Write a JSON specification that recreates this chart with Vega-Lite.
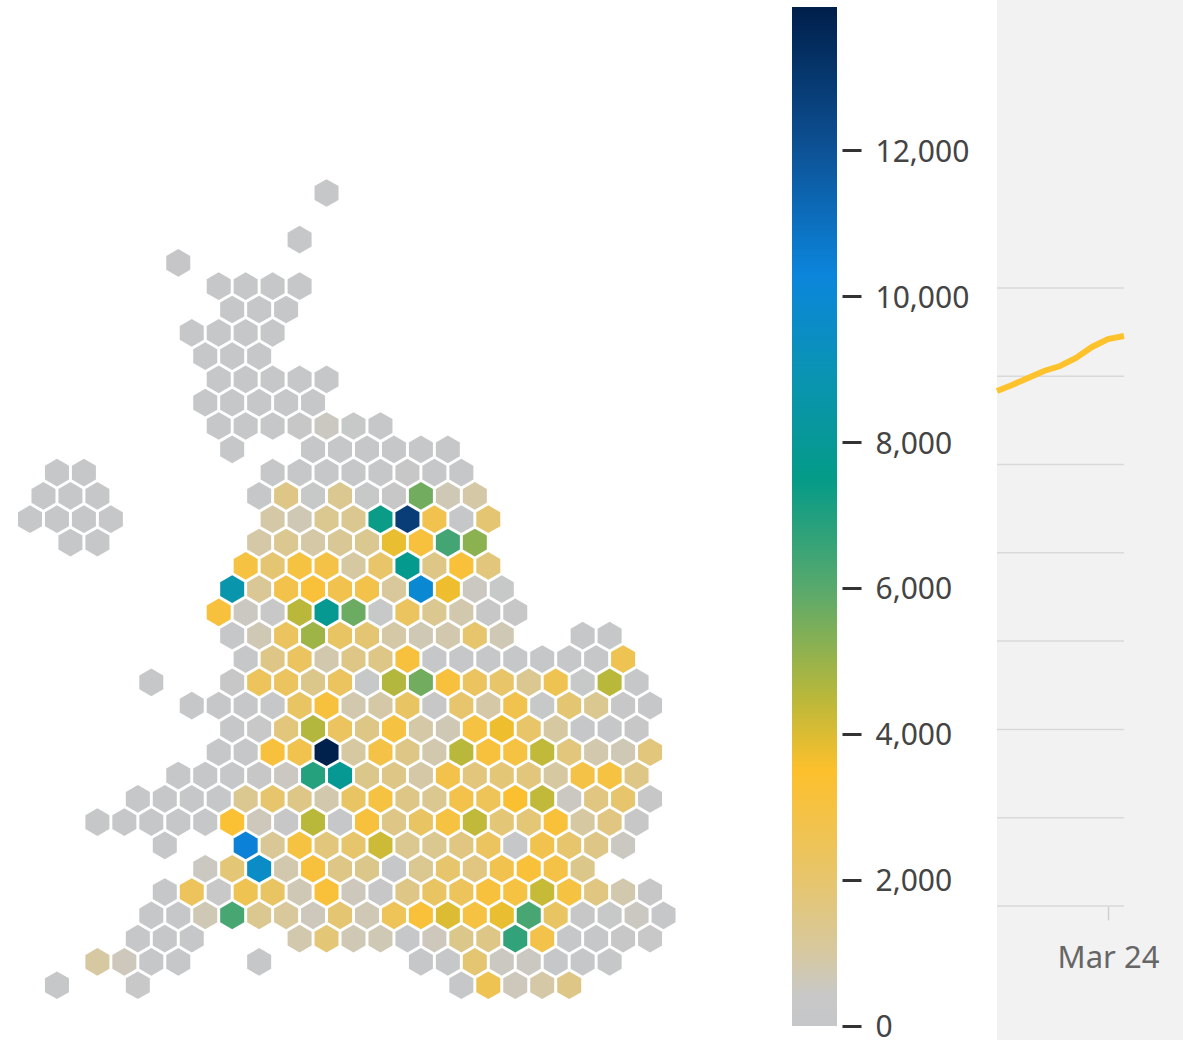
{"$schema":"https://vega.github.io/schema/vega-lite/v6.json","padding":0,"background":"white","bounds":"flush","spacing":997,"config":{"view":{"stroke":null},"font":"Noto Sans"},"hconcat":[{"bounds":"flush","spacing":0,"hconcat":[{"width":792,"height":1040,"data":{"values":[
{"c":22,"r":0,"v":100},{"c":20,"r":2,"v":120},{"c":11,"r":3,"v":90},
{"c":14,"r":4,"v":110},{"c":16,"r":4,"v":100},{"c":18,"r":4,"v":120},{"c":20,"r":4,"v":100},
{"c":15,"r":5,"v":100},{"c":17,"r":5,"v":110},{"c":19,"r":5,"v":100},
{"c":12,"r":6,"v":100},{"c":14,"r":6,"v":120},{"c":16,"r":6,"v":100},{"c":18,"r":6,"v":110},
{"c":13,"r":7,"v":100},{"c":15,"r":7,"v":100},{"c":17,"r":7,"v":120},
{"c":14,"r":8,"v":100},{"c":16,"r":8,"v":110},{"c":18,"r":8,"v":100},{"c":20,"r":8,"v":120},{"c":22,"r":8,"v":100},
{"c":13,"r":9,"v":110},{"c":15,"r":9,"v":100},{"c":17,"r":9,"v":130},{"c":19,"r":9,"v":150},{"c":21,"r":9,"v":120},
{"c":14,"r":10,"v":100},{"c":16,"r":10,"v":110},{"c":18,"r":10,"v":120},{"c":20,"r":10,"v":200},{"c":22,"r":10,"v":500},{"c":24,"r":10,"v":300},{"c":26,"r":10,"v":150},
{"c":15,"r":11,"v":100},{"c":21,"r":11,"v":120},{"c":23,"r":11,"v":150},{"c":25,"r":11,"v":130},{"c":27,"r":11,"v":120},{"c":29,"r":11,"v":110},{"c":31,"r":11,"v":140},
{"c":2,"r":12,"v":100},{"c":4,"r":12,"v":100},{"c":18,"r":12,"v":110},{"c":20,"r":12,"v":130},{"c":22,"r":12,"v":120},{"c":24,"r":12,"v":140},{"c":26,"r":12,"v":130},{"c":28,"r":12,"v":200},{"c":30,"r":12,"v":180},{"c":32,"r":12,"v":160},
{"c":1,"r":13,"v":100},{"c":3,"r":13,"v":100},{"c":5,"r":13,"v":100},{"c":17,"r":13,"v":150},{"c":19,"r":13,"v":1500},{"c":21,"r":13,"v":300},{"c":23,"r":13,"v":1300},{"c":25,"r":13,"v":300},{"c":27,"r":13,"v":200},{"c":29,"r":13,"v":5600},{"c":31,"r":13,"v":700},{"c":33,"r":13,"v":900},
{"c":0,"r":14,"v":100},{"c":2,"r":14,"v":100},{"c":4,"r":14,"v":100},{"c":6,"r":14,"v":100},{"c":18,"r":14,"v":900},{"c":20,"r":14,"v":700},{"c":22,"r":14,"v":1300},{"c":24,"r":14,"v":1300},{"c":26,"r":14,"v":7400},{"c":28,"r":14,"v":12800},{"c":30,"r":14,"v":2700},{"c":32,"r":14,"v":150},{"c":34,"r":14,"v":1900},
{"c":3,"r":15,"v":100},{"c":5,"r":15,"v":100},{"c":17,"r":15,"v":900},{"c":19,"r":15,"v":1300},{"c":21,"r":15,"v":900},{"c":23,"r":15,"v":1200},{"c":25,"r":15,"v":1300},{"c":27,"r":15,"v":3800},{"c":29,"r":15,"v":3100},{"c":31,"r":15,"v":6400},{"c":33,"r":15,"v":5200},
{"c":16,"r":16,"v":3000},{"c":18,"r":16,"v":1900},{"c":20,"r":16,"v":3000},{"c":22,"r":16,"v":2900},{"c":24,"r":16,"v":1000},{"c":26,"r":16,"v":2100},{"c":28,"r":16,"v":7700},{"c":30,"r":16,"v":1500},{"c":32,"r":16,"v":3200},{"c":34,"r":16,"v":1700},
{"c":15,"r":17,"v":8700},{"c":17,"r":17,"v":1200},{"c":19,"r":17,"v":2800},{"c":21,"r":17,"v":3200},{"c":23,"r":17,"v":2700},{"c":25,"r":17,"v":2800},{"c":27,"r":17,"v":1100},{"c":29,"r":17,"v":10000},{"c":31,"r":17,"v":3700},{"c":33,"r":17,"v":500},{"c":35,"r":17,"v":300},
{"c":14,"r":18,"v":3100},{"c":16,"r":18,"v":500},{"c":18,"r":18,"v":400},{"c":20,"r":18,"v":4500},{"c":22,"r":18,"v":7800},{"c":24,"r":18,"v":5700},{"c":26,"r":18,"v":300},{"c":28,"r":18,"v":2300},{"c":30,"r":18,"v":1300},{"c":32,"r":18,"v":800},{"c":34,"r":18,"v":200},{"c":36,"r":18,"v":200},
{"c":15,"r":19,"v":150},{"c":17,"r":19,"v":700},{"c":19,"r":19,"v":2300},{"c":21,"r":19,"v":4900},{"c":23,"r":19,"v":2200},{"c":25,"r":19,"v":1900},{"c":27,"r":19,"v":900},{"c":29,"r":19,"v":700},{"c":31,"r":19,"v":800},{"c":33,"r":19,"v":2000},{"c":35,"r":19,"v":700},{"c":41,"r":19,"v":100},{"c":43,"r":19,"v":100},
{"c":16,"r":20,"v":100},{"c":18,"r":20,"v":1500},{"c":20,"r":20,"v":2300},{"c":22,"r":20,"v":800},{"c":24,"r":20,"v":1500},{"c":26,"r":20,"v":1500},{"c":28,"r":20,"v":3100},{"c":30,"r":20,"v":100},{"c":32,"r":20,"v":100},{"c":34,"r":20,"v":120},{"c":36,"r":20,"v":100},{"c":38,"r":20,"v":150},{"c":40,"r":20,"v":100},{"c":42,"r":20,"v":130},{"c":44,"r":20,"v":2600},
{"c":9,"r":21,"v":100},{"c":15,"r":21,"v":250},{"c":17,"r":21,"v":2400},{"c":19,"r":21,"v":2300},{"c":21,"r":21,"v":1400},{"c":23,"r":21,"v":2300},{"c":25,"r":21,"v":300},{"c":27,"r":21,"v":4600},{"c":29,"r":21,"v":5600},{"c":31,"r":21,"v":3100},{"c":33,"r":21,"v":2300},{"c":35,"r":21,"v":2100},{"c":37,"r":21,"v":1300},{"c":39,"r":21,"v":2600},{"c":41,"r":21,"v":300},{"c":43,"r":21,"v":4500},{"c":45,"r":21,"v":150},
{"c":12,"r":22,"v":100},{"c":14,"r":22,"v":120},{"c":16,"r":22,"v":110},{"c":18,"r":22,"v":150},{"c":20,"r":22,"v":2200},{"c":22,"r":22,"v":3100},{"c":24,"r":22,"v":800},{"c":26,"r":22,"v":900},{"c":28,"r":22,"v":2200},{"c":30,"r":22,"v":200},{"c":32,"r":22,"v":2000},{"c":34,"r":22,"v":900},{"c":36,"r":22,"v":2700},{"c":38,"r":22,"v":300},{"c":40,"r":22,"v":1900},{"c":42,"r":22,"v":1300},{"c":44,"r":22,"v":200},{"c":46,"r":22,"v":150},
{"c":15,"r":23,"v":100},{"c":17,"r":23,"v":400},{"c":19,"r":23,"v":1700},{"c":21,"r":23,"v":4600},{"c":23,"r":23,"v":2300},{"c":25,"r":23,"v":1500},{"c":27,"r":23,"v":3000},{"c":29,"r":23,"v":900},{"c":31,"r":23,"v":700},{"c":33,"r":23,"v":3000},{"c":35,"r":23,"v":3700},{"c":37,"r":23,"v":2100},{"c":39,"r":23,"v":1000},{"c":41,"r":23,"v":150},{"c":43,"r":23,"v":150},{"c":45,"r":23,"v":200},
{"c":14,"r":24,"v":100},{"c":16,"r":24,"v":120},{"c":18,"r":24,"v":3100},{"c":20,"r":24,"v":2700},{"c":22,"r":24,"v":13900},{"c":24,"r":24,"v":1000},{"c":26,"r":24,"v":2900},{"c":28,"r":24,"v":1500},{"c":30,"r":24,"v":800},{"c":32,"r":24,"v":4500},{"c":34,"r":24,"v":3100},{"c":36,"r":24,"v":3000},{"c":38,"r":24,"v":4400},{"c":40,"r":24,"v":1700},{"c":42,"r":24,"v":800},{"c":44,"r":24,"v":700},{"c":46,"r":24,"v":1700},
{"c":11,"r":25,"v":100},{"c":13,"r":25,"v":110},{"c":15,"r":25,"v":100},{"c":17,"r":25,"v":200},{"c":19,"r":25,"v":500},{"c":21,"r":25,"v":6900},{"c":23,"r":25,"v":7900},{"c":25,"r":25,"v":1400},{"c":27,"r":25,"v":1500},{"c":29,"r":25,"v":900},{"c":31,"r":25,"v":2800},{"c":33,"r":25,"v":1700},{"c":35,"r":25,"v":1800},{"c":37,"r":25,"v":1700},{"c":39,"r":25,"v":1000},{"c":41,"r":25,"v":2900},{"c":43,"r":25,"v":3000},{"c":45,"r":25,"v":1500},
{"c":8,"r":26,"v":100},{"c":10,"r":26,"v":100},{"c":12,"r":26,"v":110},{"c":14,"r":26,"v":130},{"c":16,"r":26,"v":1300},{"c":18,"r":26,"v":2000},{"c":20,"r":26,"v":1500},{"c":22,"r":26,"v":800},{"c":24,"r":26,"v":2200},{"c":26,"r":26,"v":3000},{"c":28,"r":26,"v":1500},{"c":30,"r":26,"v":1300},{"c":32,"r":26,"v":2800},{"c":34,"r":26,"v":2500},{"c":36,"r":26,"v":3400},{"c":38,"r":26,"v":4400},{"c":40,"r":26,"v":500},{"c":42,"r":26,"v":1600},{"c":44,"r":26,"v":2000},{"c":46,"r":26,"v":200},
{"c":5,"r":27,"v":100},{"c":7,"r":27,"v":100},{"c":9,"r":27,"v":110},{"c":11,"r":27,"v":100},{"c":13,"r":27,"v":120},{"c":15,"r":27,"v":3300},{"c":17,"r":27,"v":600},{"c":19,"r":27,"v":200},{"c":21,"r":27,"v":4500},{"c":23,"r":27,"v":150},{"c":25,"r":27,"v":3100},{"c":27,"r":27,"v":1500},{"c":29,"r":27,"v":2200},{"c":31,"r":27,"v":3000},{"c":33,"r":27,"v":4400},{"c":35,"r":27,"v":1800},{"c":37,"r":27,"v":1800},{"c":39,"r":27,"v":3200},{"c":41,"r":27,"v":1000},{"c":43,"r":27,"v":1600},{"c":45,"r":27,"v":200},
{"c":10,"r":28,"v":100},{"c":16,"r":28,"v":10400},{"c":18,"r":28,"v":1200},{"c":20,"r":28,"v":3000},{"c":22,"r":28,"v":1700},{"c":24,"r":28,"v":2000},{"c":26,"r":28,"v":4200},{"c":28,"r":28,"v":1300},{"c":30,"r":28,"v":1300},{"c":32,"r":28,"v":1600},{"c":34,"r":28,"v":2300},{"c":36,"r":28,"v":100},{"c":38,"r":28,"v":2700},{"c":40,"r":28,"v":2000},{"c":42,"r":28,"v":1500},{"c":44,"r":28,"v":500},
{"c":13,"r":29,"v":500},{"c":15,"r":29,"v":1800},{"c":17,"r":29,"v":9600},{"c":19,"r":29,"v":800},{"c":21,"r":29,"v":3100},{"c":23,"r":29,"v":1500},{"c":25,"r":29,"v":1400},{"c":27,"r":29,"v":150},{"c":29,"r":29,"v":1300},{"c":31,"r":29,"v":2000},{"c":33,"r":29,"v":1600},{"c":35,"r":29,"v":2700},{"c":37,"r":29,"v":3200},{"c":39,"r":29,"v":2900},{"c":41,"r":29,"v":1400},
{"c":10,"r":30,"v":100},{"c":12,"r":30,"v":2400},{"c":14,"r":30,"v":400},{"c":16,"r":30,"v":2600},{"c":18,"r":30,"v":2200},{"c":20,"r":30,"v":700},{"c":22,"r":30,"v":3200},{"c":24,"r":30,"v":600},{"c":26,"r":30,"v":200},{"c":28,"r":30,"v":1500},{"c":30,"r":30,"v":2200},{"c":32,"r":30,"v":2400},{"c":34,"r":30,"v":3100},{"c":36,"r":30,"v":3000},{"c":38,"r":30,"v":4300},{"c":40,"r":30,"v":3000},{"c":42,"r":30,"v":1600},{"c":44,"r":30,"v":800},{"c":46,"r":30,"v":200},
{"c":9,"r":31,"v":100},{"c":11,"r":31,"v":120},{"c":13,"r":31,"v":700},{"c":15,"r":31,"v":6300},{"c":17,"r":31,"v":1300},{"c":19,"r":31,"v":1100},{"c":21,"r":31,"v":600},{"c":23,"r":31,"v":1900},{"c":25,"r":31,"v":700},{"c":27,"r":31,"v":2500},{"c":29,"r":31,"v":3200},{"c":31,"r":31,"v":4000},{"c":33,"r":31,"v":3000},{"c":35,"r":31,"v":3800},{"c":37,"r":31,"v":6300},{"c":39,"r":31,"v":2200},{"c":41,"r":31,"v":200},{"c":43,"r":31,"v":300},{"c":45,"r":31,"v":500},{"c":47,"r":31,"v":100},
{"c":8,"r":32,"v":100},{"c":10,"r":32,"v":110},{"c":12,"r":32,"v":120},{"c":20,"r":32,"v":800},{"c":22,"r":32,"v":1800},{"c":24,"r":32,"v":700},{"c":26,"r":32,"v":700},{"c":28,"r":32,"v":150},{"c":30,"r":32,"v":600},{"c":32,"r":32,"v":1400},{"c":34,"r":32,"v":1500},{"c":36,"r":32,"v":6700},{"c":38,"r":32,"v":2800},{"c":40,"r":32,"v":150},{"c":42,"r":32,"v":120},{"c":44,"r":32,"v":200},{"c":46,"r":32,"v":400},
{"c":5,"r":33,"v":1000},{"c":7,"r":33,"v":600},{"c":9,"r":33,"v":100},{"c":11,"r":33,"v":110},{"c":17,"r":33,"v":100},{"c":29,"r":33,"v":100},{"c":31,"r":33,"v":150},{"c":33,"r":33,"v":1900},{"c":35,"r":33,"v":500},{"c":37,"r":33,"v":500},{"c":39,"r":33,"v":150},{"c":41,"r":33,"v":100},{"c":43,"r":33,"v":120},
{"c":2,"r":34,"v":100},{"c":8,"r":34,"v":400},{"c":32,"r":34,"v":150},{"c":34,"r":34,"v":2600},{"c":36,"r":34,"v":600},{"c":38,"r":34,"v":900},{"c":40,"r":34,"v":1500}
]},"mark":{"type":"point","filled":true,"opacity":1,"shape":"M0,-1.155L1,-0.577L1,0.577L0,1.155L-1,0.577L-1,-0.577Z","size":576},"encoding":{"x":{"field":"c","type":"quantitative","scale":{"domain":[-2.225,56.53],"nice":false,"zero":false},"axis":null},"y":{"field":"r","type":"quantitative","scale":{"domain":[36.35,-8.283],"nice":false,"zero":false},"axis":null},"color":{"field":"v","type":"quantitative","legend":null,"scale":{"interpolate":"rgb","domain":[0,400,1000,2000,3500,4500,6000,7500,9000,10300,12000,13960],"range":["#c5c6c8","#c8c8c8","#d6c8a0","#e6c56c","#fdc02c","#b9b83a","#58a96c","#049b88","#0a93b5","#0b85db","#0d5296","#001f4a"]}}}},
{"width":45,"height":1040,"data":{"values":[{"lo":0,"hi":13960}]},"mark":{"type":"rect","color":{"gradient":"linear","x1":0,"y1":1,"x2":0,"y2":0,"stops":[{"offset":0,"color":"#c5c6c8"},{"offset":0.0287,"color":"#c8c8c8"},{"offset":0.0716,"color":"#d6c8a0"},{"offset":0.1433,"color":"#e6c56c"},{"offset":0.2507,"color":"#fdc02c"},{"offset":0.3223,"color":"#b9b83a"},{"offset":0.4298,"color":"#58a96c"},{"offset":0.5372,"color":"#049b88"},{"offset":0.6447,"color":"#0a93b5"},{"offset":0.7378,"color":"#0b85db"},{"offset":0.8596,"color":"#0d5296"},{"offset":1,"color":"#001f4a"}]}},"encoding":{"y":{"field":"lo","type":"quantitative","scale":{"domain":[-192,14055],"nice":false,"zero":false},"axis":{"orient":"right","offset":5,"title":null,"domain":false,"grid":false,"values":[0,2000,4000,6000,8000,10000,12000],"format":",.0f","tickColor":"#333333","tickWidth":3,"tickSize":19,"labelPadding":14,"labelFontSize":30,"labelColor":"#444444","labelFont":"Noto Sans","labelOffset":2}},"y2":{"field":"hi"}}}]},
{"width":186,"height":1040,"view":{"fill":"#f2f2f2","stroke":null},"layer":[
{"data":{"values":[{"g":0,"a":"2020-03-17T01:30:00Z","b":"2020-03-25T00:00:00Z"},{"g":1000,"a":"2020-03-17T01:30:00Z","b":"2020-03-25T00:00:00Z"},{"g":2000,"a":"2020-03-17T01:30:00Z","b":"2020-03-25T00:00:00Z"},{"g":3000,"a":"2020-03-17T01:30:00Z","b":"2020-03-25T00:00:00Z"},{"g":4000,"a":"2020-03-17T01:30:00Z","b":"2020-03-25T00:00:00Z"},{"g":5000,"a":"2020-03-17T01:30:00Z","b":"2020-03-25T00:00:00Z"},{"g":6000,"a":"2020-03-17T01:30:00Z","b":"2020-03-25T00:00:00Z"},{"g":7000,"a":"2020-03-17T01:30:00Z","b":"2020-03-25T00:00:00Z"}]},"mark":{"type":"rule","color":"#d9d9d9","strokeWidth":1.5},"encoding":{"x":{"field":"a","type":"temporal","scale":{"type":"utc","domain":[1584408600000,1585413000000]},"axis":{"orient":"bottom","offset":-134,"title":null,"grid":false,"domain":false,"values":[1585008000000],"format":"%b %d","tickColor":"#d0d0d0","tickWidth":1.5,"tickSize":14,"labelPadding":23,"labelFontSize":31,"labelColor":"#666666","labelFont":"Noto Sans"}},"x2":{"field":"b"},"y":{"field":"g","type":"quantitative","scale":{"domain":[-1517,10260],"nice":false,"zero":false},"axis":null}}},
{"data":{"values":[{"d":"2020-03-17T01:30:00Z","n":5832},{"d":"2020-03-18T00:00:00Z","n":5900},{"d":"2020-03-19T00:00:00Z","n":5980},{"d":"2020-03-20T00:00:00Z","n":6059},{"d":"2020-03-21T00:00:00Z","n":6115},{"d":"2020-03-22T00:00:00Z","n":6206},{"d":"2020-03-23T00:00:00Z","n":6331},{"d":"2020-03-24T00:00:00Z","n":6421},{"d":"2020-03-25T00:00:00Z","n":6455}]},"mark":{"type":"line","color":"#fec22d","strokeWidth":6},"encoding":{"x":{"field":"d","type":"temporal"},"y":{"field":"n","type":"quantitative"}}}
],"resolve":{"scale":{"x":"shared","y":"shared"}}}]}
